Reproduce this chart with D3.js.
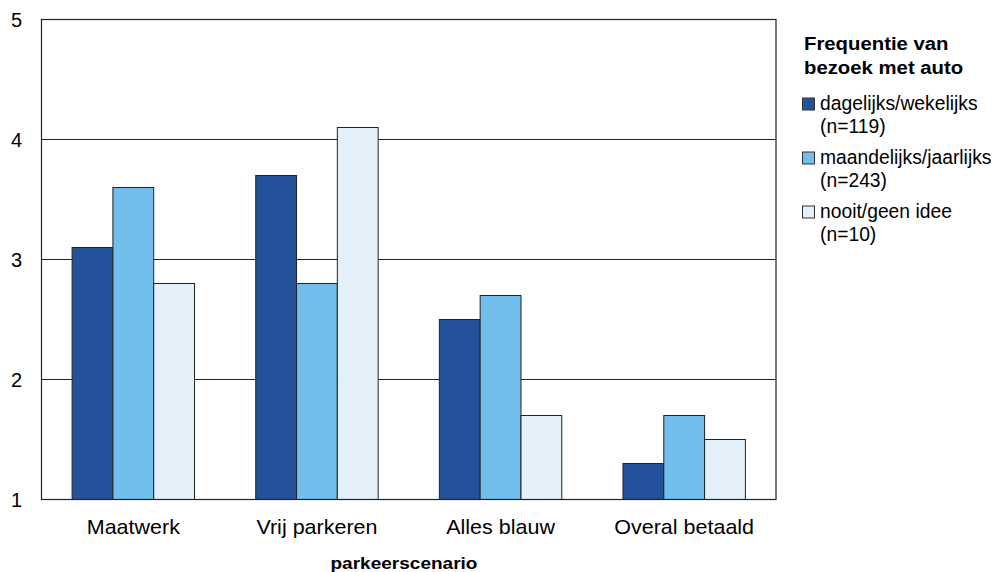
<!DOCTYPE html>
<html><head><meta charset="utf-8">
<script src="https://cdn.jsdelivr.net/npm/d3@7"></script>
<style>body{margin:0;background:#fff}svg{display:block}text{font-family:"Liberation Sans",Arial,sans-serif;fill:#000}</style>
</head><body>
<svg id="c" width="1000" height="572"></svg>
<script>
const categories = ["Maatwerk","Vrij parkeren","Alles blauw","Overal betaald"];
const seriesNames = ["dagelijks/wekelijks","maandelijks/jaarlijks","nooit/geen idee"];
const seriesN = ["(n=119)","(n=243)","(n=10)"];
const dagelijks = [3.1,3.7,2.5,1.3];
const maandelijks = [3.6,2.8,2.7,1.7];
const nooit = [2.8,4.1,1.7,1.5];
const yTicks = [1,2,3,4,5];
const colors = ["#25519b","#71bdec","#e3f0fa"];
const legendTitle = ["Frequentie van","bezoek met auto"];
const xTitle = "parkeerscenario";

const series = [dagelijks, maandelijks, nooit];
const svg = d3.select("#c");
const L = 41.5, R = 776, T = 19.5, B = 499.5;
const x = d3.scaleBand().domain(categories).range([L,R]).paddingInner(1/3).paddingOuter(1/6);
const xs = d3.scaleBand().domain(d3.range(3)).range([0,x.bandwidth()]);
const y = d3.scaleLinear().domain([1,5]).range([B,T]);

function stretched(sel, px, py, k){
  return sel.attr("transform", `translate(${px},${py}) scale(${k},1)`);
}

// gridlines
svg.append("g").selectAll("line").data(yTicks).join("line")
  .attr("x1",L).attr("x2",R).attr("y1",d=>y(d)).attr("y2",d=>y(d))
  .attr("stroke","#222").attr("stroke-width",1.2);
// bars
series.forEach((vals,i)=>{
  svg.append("g").selectAll("rect").data(vals).join("rect")
    .attr("x",(d,j)=>x(categories[j])+xs(i))
    .attr("width",xs.bandwidth())
    .attr("y",d=>y(d)).attr("height",d=>B-y(d))
    .attr("fill",colors[i]).attr("stroke","#222").attr("stroke-width",1);
});
// frame
svg.append("rect").attr("x",L).attr("y",T).attr("width",R-L).attr("height",B-T)
  .attr("fill","none").attr("stroke","#222").attr("stroke-width",1.2);

// y labels
svg.append("g").selectAll("text").data(yTicks).join("text")
  .attr("x",22).attr("y",d=>y(d)+7).attr("text-anchor","end")
  .style("font-size","20px").text(d=>d);
// x labels
svg.append("g").selectAll("text").data(categories).join("text")
  .each(function(d){ stretched(d3.select(this), x(d)+x.bandwidth()/2, 534, 1.075); })
  .attr("text-anchor","middle")
  .style("font-size","20px").text(d=>d);
stretched(svg.append("text"), 404, 569, 1.12).attr("text-anchor","middle")
  .style("font-size","17px").style("font-weight","bold").text(xTitle);

// legend
const lg = svg.append("g");
lg.selectAll("text.t").data(legendTitle).join("text").attr("class","t")
  .each(function(d,i){ stretched(d3.select(this), 804, 50+i*24, 1.13); })
  .style("font-size","18px").style("font-weight","bold").text(d=>d);
seriesNames.forEach((n,i)=>{
  const y0 = 98 + i*54;
  lg.append("rect").attr("x",802.5).attr("y",y0).attr("width",12).attr("height",12)
    .attr("fill",colors[i]).attr("stroke","#333").attr("stroke-width",1);
  lg.append("text").attr("x",820).attr("y",y0+11.5).style("font-size","19.3px").text(n);
  lg.append("text").attr("x",820).attr("y",y0+34.5).style("font-size","19.3px").text(seriesN[i]);
});
</script>
</body></html>
